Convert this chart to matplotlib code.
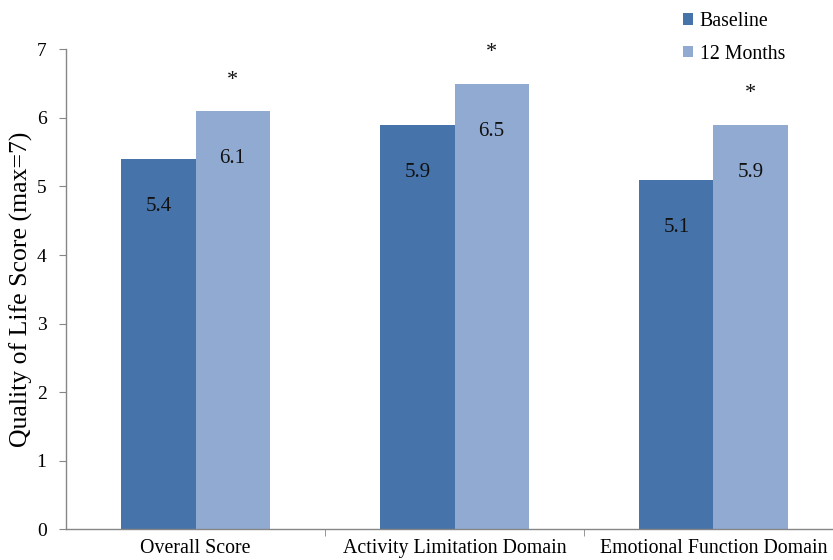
import numpy as np
import matplotlib.pyplot as plt

categories = ['Overall Score', 'Activity Limitation Domain', 'Emotional Function Domain']
baseline = [5.4, 5.9, 5.1]
months_12 = [6.1, 6.5, 5.9]
series_names = ['Baseline', '12 Months']
significant = [True, True, True]

plt.rcParams['font.family'] = ['Liberation Serif', 'DejaVu Serif']

fig = plt.figure(figsize=(8.33, 5.6), dpi=100)
ax = fig.add_axes([66 / 833, 30.7 / 560, 777 / 833, 480 / 560])

x = np.arange(len(categories))
w = 0.286
dark = '#4673a9'
light = '#91aad2'

b1 = ax.bar(x - w / 2, baseline, w, color=dark, label=series_names[0])
b2 = ax.bar(x + w / 2, months_12, w, color=light, label=series_names[1])

# value labels sit inside the top of each bar
for bars, vals in ((b1, baseline), (b2, months_12)):
    for rect, v in zip(bars, vals):
        ax.annotate(f'{v:.1f}', (rect.get_x() + rect.get_width() / 2, v),
                    xytext=(0, -34.5), textcoords='offset points',
                    ha='center', va='center', fontsize=15, color='#111111')

# significance markers over the 12 month bars
for rect, v, sig in zip(b2, months_12, significant):
    if sig:
        ax.text(rect.get_x() + rect.get_width() / 2, v + 0.45, '*',
                ha='center', va='center', fontsize=16, color='#111111')

ax.set_xlim(-0.5, len(categories) - 0.5)
ax.set_ylim(0, 7)
ax.set_yticks(range(0, 8))
ax.set_ylabel('Quality of Life Score (max=7)', fontsize=18.5, labelpad=3)

ax.set_xticks(x)
ax.set_xticklabels(categories, fontsize=14.3)
ax.set_xticks(np.arange(0.5, len(categories) - 0.5), minor=True)
ax.tick_params(axis='x', which='major', length=0, pad=7)
ax.tick_params(axis='x', which='minor', length=5, color='#868686', direction='out')
ax.tick_params(axis='y', length=5, color='#868686', direction='out', labelsize=14, pad=9)

for side in ('top', 'right'):
    ax.spines[side].set_visible(False)
for side in ('left', 'bottom'):
    ax.spines[side].set_color('#868686')
    ax.spines[side].set_linewidth(1.0)

ax.legend(loc='upper left', bbox_to_anchor=(671 / 833, 1.0), bbox_transform=fig.transFigure,
          frameon=False, fontsize=14.3, handlelength=0.5, handleheight=0.5,
          handletextpad=0.35, labelspacing=0.7, borderaxespad=0.2)

fig.savefig('out.png', dpi=100)
